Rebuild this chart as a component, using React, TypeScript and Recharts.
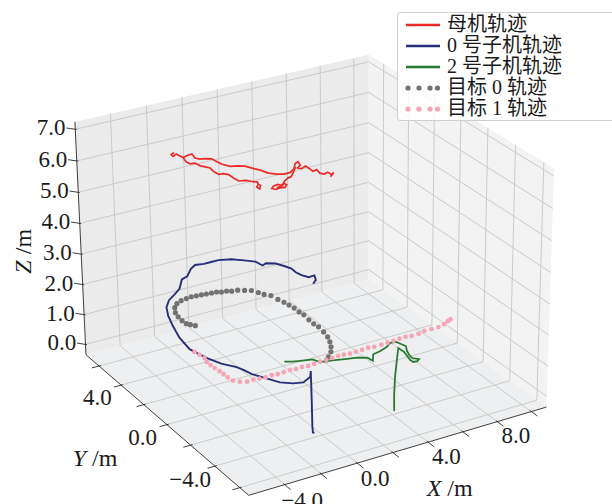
import { ScatterChart, Scatter, XAxis, YAxis } from 'recharts'

type P3 = [number, number, number]

const W = 612
const H = 504
const FONT = '"Liberation Serif", "Times New Roman", "Noto Sans CJK SC", serif'

// axis limits in metres
const X0 = -5.95
const X1 = 10.9
const Y0 = -6.7
const Y1 = 7.2
const Z0 = -0.35
const Z1 = 7.23

const X_TICKS = [-4, -2, 0, 2, 4, 6, 8, 10]
const X_TICK_LABELS = [-4, 0, 4, 8]
const Y_TICKS = [-6, -4, -2, 0, 2, 4, 6]
const Y_TICK_LABELS = [-4, 0, 4]
const Z_TICKS = [0, 1, 2, 3, 4, 5, 6, 7]

// camera calibration: data point -> where it sits in the figure (box corners and axis ticks)
const CALIB: [number, number, number, number, number][] = [
  [X0, Y1, Z0, 85, 355],
  [X0, Y0, Z0, 247, 493],
  [X1, Y0, Z0, 549, 408],
  [X1, Y1, Z0, 366, 273],
  [X0, Y1, Z1, 75, 121],
  [X1, Y1, Z1, 368, 61],
  [X1, Y0, Z1, 556, 168],
  [-4, Y0, Z0, 282, 483],
  [-2, Y0, Z0, 317, 473],
  [0, Y0, Z0, 355, 463],
  [2, Y0, Z0, 392, 452],
  [4, Y0, Z0, 427, 442],
  [6, Y0, Z0, 463, 432],
  [8, Y0, Z0, 498, 422],
  [10, Y0, Z0, 533, 412],
  [X0, 6, Z0, 100, 368],
  [X0, 4, Z0, 124, 388],
  [X0, 2, Z0, 149, 410],
  [X0, 0, Z0, 169, 426],
  [X0, -2, Z0, 194, 448],
  [X0, -4, Z0, 215, 466],
  [X0, -6, Z0, 239, 486],
  [X0, Y1, 0, 84.5, 344],
  [X0, Y1, 1, 83.3, 315],
  [X0, Y1, 2, 82, 284],
  [X0, Y1, 3, 80.6, 253],
  [X0, Y1, 4, 79.3, 222],
  [X0, Y1, 5, 78, 191],
  [X0, Y1, 6, 76.6, 159],
  [X0, Y1, 7, 75.3, 128],
]

const SERIES = [
  { name: '母机轨迹', color: '#ec2a2a', kind: 'line' },
  { name: '0 号子机轨迹', color: '#262f78', kind: 'line' },
  { name: '2 号子机轨迹', color: '#2b7a34', kind: 'line' },
  { name: '目标 0 轨迹', color: '#727272', kind: 'dot' },
  { name: '目标 1 轨迹', color: '#f5a5b5', kind: 'dot' },
]

// mother drone, z ~ 6 m (upper strand, lower strand, hovering loop)
const MOTHER_MAIN: P3[] = [
  [-1.35, 5.91, 6], [-1.61, 5.77, 6], [-1.63, 5.57, 6], [-1.37, 5.71, 6], [-1.28, 5.25, 6],
  [-0.95, 5.35, 6], [-0.69, 5.39, 6], [-0.81, 4.95, 6], [-0.66, 4.75, 6], [-0.41, 4.69, 6],
  [-0.14, 4.53, 6], [-0.09, 4.17, 6], [-0.03, 3.83, 6], [0.19, 3.48, 6], [0.55, 3.36, 6],
  [0.82, 3.18, 6], [1.0, 2.86, 6], [1.22, 2.51, 6], [1.39, 2.09, 6], [1.66, 1.82, 6],
  [2.0, 1.66, 6], [2.34, 1.69, 6], [2.71, 1.93, 6], [3.09, 2.36, 6], [3.32, 2.46, 6],
  [3.2, 2.11, 6], [2.92, 1.92, 6], [3.04, 1.77, 6], [3.36, 1.92, 6], [3.37, 1.6, 6],
  [3.35, 1.3, 6], [3.61, 1.37, 6], [3.53, 1.0, 6], [3.65, 0.84, 6], [3.92, 0.92, 6],
  [3.93, 0.6, 6], [4.16, 0.79, 6], [3.75, 0.48, 6],
]
const MOTHER_LOWER: P3[] = [
  [-1.28, 5.25, 6], [-1.4, 4.8, 6], [-1.34, 4.55, 6], [-1.1, 4.51, 6], [-1.04, 4.15, 6],
  [-0.89, 3.95, 6], [-0.75, 3.75, 6], [-0.81, 3.39, 6], [-0.76, 3.03, 6], [-0.52, 2.99, 6],
  [-0.37, 2.79, 6], [-0.36, 2.37, 6], [-0.31, 2.03, 6], [0.01, 1.93, 6], [0.24, 1.67, 6],
  [0.4, 1.57, 6], [0.3, 1.33, 6], [0.08, 1.15, 6], [0.1, 0.93, 6], [0.33, 1.21, 6],
  [0.31, 1.43, 6],
]
const MOTHER_LOOP: P3[] = [
  [2.89, 2.05, 6], [2.47, 1.63, 6], [2.09, 1.29, 6], [1.92, 1.27, 6], [1.55, 1.05, 6],
  [1.24, 0.73, 6], [1.1, 0.92, 6], [0.84, 0.88, 6], [0.62, 0.71, 6], [0.73, 0.54, 6],
  [0.98, 0.59, 6], [1.23, 0.53, 6], [1.45, 0.71, 6], [1.42, 0.93, 6], [1.12, 0.7, 6],
  [0.86, 0.66, 6],
]

// drone 0: climbs from the ground, then flies round at z ~ 2 m
const UAV0: P3[] = [
  [-0.76, -4.45, 0], [-0.81, -4.4, 0], [-0.83, -4.39, 0.2], [-0.86, -4.4, 1.0],
  [-0.9, -4.42, 1.7], [-0.92, -4.43, 2], [-1.23, -4.83, 2], [-1.8, -5.1, 2],
  [-2.27, -4.96, 2], [-2.75, -4.62, 2], [-3.09, -4.06, 2], [-3.47, -3.45, 2],
  [-3.59, -2.99, 2], [-3.73, -2.61, 2], [-4.19, -2.04, 2], [-4.48, -1.37, 2],
  [-4.64, -0.77, 2], [-4.76, -0.29, 2], [-4.59, 0.82, 2], [-4.27, 1.87, 2],
  [-3.93, 2.8, 2], [-3.57, 3.5, 2], [-3.08, 4.04, 2], [-2.58, 4.36, 2],
  [-2.02, 4.75, 2], [-1.41, 5.48, 2], [-1.01, 5.62, 2], [-0.43, 6.18, 2],
  [-0.03, 6.42, 2], [0.42, 6.32, 2], [0.84, 6.32, 2], [1.26, 6.32, 2],
  [1.88, 6.12, 2], [2.37, 5.74, 2], [2.79, 5.38, 2], [2.88, 4.9, 2],
  [3.16, 5.02, 2], [3.56, 4.78, 2], [3.82, 4.31, 2], [3.95, 4.01, 2],
  [3.92, 3.61, 2], [4.0, 3.24, 2], [4.19, 2.92, 2], [4.54, 2.94, 2], [4.33, 2.53, 2], [4.0, 2.29, 2],
]

// drone 2: cruise at z ~ 2 m, loop, then straight down
const UAV2: P3[] = [
  [-1.5, -3.18, 2], [-1.16, -3.35, 2], [-0.7, -3.48, 2], [-0.23, -3.6, 2], [-0.07, -3.95, 2],
  [0.27, -4.02, 2], [0.75, -4.15, 2], [1.22, -4.27, 2], [1.68, -4.39, 2], [2.12, -4.6, 2],
  [2.17, -4.94, 2], [2.54, -4.47, 2], [2.98, -4.38, 2], [3.49, -4.21, 2], [3.87, -3.97, 2],
  [4.17, -4.02, 2], [4.25, -4.28, 2], [4.34, -4.54, 2], [4.11, -4.92, 2], [3.98, -5.27, 2],
  [3.93, -5.55, 2], [4.15, -5.77, 2], [3.97, -5.88, 2], [3.75, -5.87, 2], [3.74, -5.66, 2],
  [3.94, -4.93, 2], [3.92, -4.52, 2], [3.92, -4.4, 1.5], [3.91, -4.3, 1.0],
  [3.91, -4.24, 0.4], [3.93, -4.22, -0.12], [3.99, -4.2, -0.15],
]

// target 0, z ~ 1 m
const TARGET0: P3[] = [
  [-1.74, 3.88, 1], [-1.9, 4.07, 1], [-2.02, 4.24, 1], [-2.04, 4.58, 1], [-2.0, 4.98, 1],
  [-1.9, 5.38, 1], [-1.66, 5.81, 1], [-1.35, 6.09, 1], [-1.0, 6.25, 1], [-0.66, 6.31, 1],
  [-0.34, 6.36, 1], [-0.07, 6.32, 1], [0.21, 6.3, 1], [0.47, 6.26, 1], [0.75, 6.23, 1],
  [1.03, 6.2, 1], [1.24, 6.09, 1], [1.52, 6.06, 1], [1.74, 5.94, 1], [2.06, 5.89, 1],
  [2.35, 5.72, 1], [2.64, 5.56, 1], [2.83, 5.24, 1], [2.97, 4.95, 1], [3.21, 4.71, 1],
  [3.29, 4.24, 1], [3.39, 3.87, 1], [3.45, 3.53, 1], [3.5, 3.17, 1], [3.49, 2.75, 1],
  [3.53, 2.41, 1], [3.46, 1.9, 1], [3.44, 1.48, 1], [3.48, 1.14, 1], [3.41, 0.63, 1],
  [3.3, 0.15, 1], [3.12, -0.28, 1], [2.89, -0.69, 1], [2.61, -1.07, 1], [2.23, -1.41, 1],
  [1.98, -1.6, 1],
]

// target 1, z ~ 1 m
const TARGET1: P3[] = [
  [-3.15, 1.81, 1], [-3.09, 1.47, 1], [-3.04, 1.13, 1], [-3.16, 0.77, 1], [-3.16, 0.45, 1],
  [-3.14, 0.13, 1], [-3.09, -0.21, 1], [-3.08, -0.53, 1], [-3.07, -0.85, 1], [-3.02, -1.2, 1],
  [-2.79, -1.43, 1], [-2.49, -1.58, 1], [-2.12, -1.55, 1], [-1.81, -1.6, 1], [-1.5, -1.64, 1],
  [-1.13, -1.61, 1], [-0.83, -1.66, 1], [-0.47, -1.63, 1], [-0.1, -1.6, 1], [0.21, -1.65, 1],
  [0.57, -1.62, 1], [0.88, -1.67, 1], [1.24, -1.64, 1], [1.6, -1.61, 1], [1.97, -1.59, 1],
  [2.33, -1.56, 1], [2.69, -1.53, 1], [2.99, -1.57, 1], [3.31, -1.62, 1], [3.67, -1.59, 1],
  [4.04, -1.58, 1], [4.41, -1.55, 1], [4.72, -1.61, 1], [5.14, -1.6, 1], [5.51, -1.58, 1],
  [5.88, -1.56, 1], [6.25, -1.53, 1], [6.62, -1.51, 1], [6.94, -1.56, 1], [7.35, -1.56, 1],
  [7.77, -1.45, 1], [8.18, -1.47, 1], [8.6, -1.46, 1], [9.02, -1.35, 1], [9.35, -1.21, 1],
  [9.59, -1.11, 1],
]

// perspective camera fitted to the calibration points (least squares DLT)
function fitCamera() {
  const S = 300
  const CX = 306
  const CY = 252
  const norm = (x: number, y: number, z: number) => [(x - X0) / (X1 - X0), (y - Y0) / (Y1 - Y0), (z - Z0) / (Z1 - Z0)]
  const rows: number[][] = []
  const rhs: number[] = []
  for (const [x, y, z, px, py] of CALIB) {
    const [u, v, w] = norm(x, y, z)
    const X = (px - CX) / S
    const Y = (py - CY) / S
    rows.push([u, v, w, 1, 0, 0, 0, 0, -X * u, -X * v, -X * w])
    rhs.push(X)
    rows.push([0, 0, 0, 0, u, v, w, 1, -Y * u, -Y * v, -Y * w])
    rhs.push(Y)
  }
  const n = 11
  const M = Array.from({ length: n }, () => new Array(n + 1).fill(0))
  rows.forEach((row, r) => {
    for (let i = 0; i < n; i++) {
      for (let j = 0; j < n; j++) M[i][j] += row[i] * row[j]
      M[i][n] += row[i] * rhs[r]
    }
  })
  for (let c = 0; c < n; c++) {
    let piv = c
    for (let r = c + 1; r < n; r++) if (Math.abs(M[r][c]) > Math.abs(M[piv][c])) piv = r
    const tmp = M[c]
    M[c] = M[piv]
    M[piv] = tmp
    for (let r = 0; r < n; r++) {
      if (r === c) continue
      const f = M[r][c] / M[c][c]
      for (let k = c; k <= n; k++) M[r][k] -= f * M[c][k]
    }
  }
  const p = M.map((row, i) => row[n] / row[i])
  return (pt: P3) => {
    const [u, v, w] = norm(pt[0], pt[1], pt[2])
    const d = p[8] * u + p[9] * v + p[10] * w + 1
    return {
      px: CX + (S * (p[0] * u + p[1] * v + p[2] * w + p[3])) / d,
      py: CY + (S * (p[4] * u + p[5] * v + p[6] * w + p[7])) / d,
    }
  }
}

const project = fitCamera()
const proj = (arr: P3[]) => arr.map(project)
const seg = (a: P3, b: P3) => [project(a), project(b)]

const panes = [
  { poly: proj([[X0, Y1, Z0], [X1, Y1, Z0], [X1, Y1, Z1], [X0, Y1, Z1]]), fill: '#ebebeb' },
  { poly: proj([[X1, Y0, Z0], [X1, Y1, Z0], [X1, Y1, Z1], [X1, Y0, Z1]]), fill: '#f3f3f3' },
  { poly: proj([[X0, Y0, Z0], [X1, Y0, Z0], [X1, Y1, Z0], [X0, Y1, Z0]]), fill: '#eeeff0' },
].map(p => ({ ...p, px: p.poly[0].px, py: p.poly[0].py }))

const gridSegs = [
  ...X_TICKS.flatMap(x => [seg([x, Y0, Z0], [x, Y1, Z0]), seg([x, Y1, Z0], [x, Y1, Z1])]),
  ...Y_TICKS.flatMap(y => [seg([X0, y, Z0], [X1, y, Z0]), seg([X1, y, Z0], [X1, y, Z1])]),
  ...Z_TICKS.flatMap(z => [seg([X0, Y1, z], [X1, Y1, z]), seg([X1, Y0, z], [X1, Y1, z])]),
]

const axisSegs = [
  seg([X0, Y0, Z0], [X1, Y0, Z0]),
  seg([X0, Y1, Z0], [X0, Y0, Z0]),
  seg([X0, Y1, Z0], [X0, Y1, Z1]),
  ...X_TICKS.map(x => seg([x, Y0 + 0.1, Z0], [x, Y0 - 0.45, Z0])),
  ...Y_TICKS.map(y => seg([X0 + 0.1, y, Z0], [X0 - 0.4, y, Z0])),
  ...Z_TICKS.map(z => seg([X0 + 0.05, Y1 - 0.05, z], [X0 - 0.3, Y1 + 0.3, z])),
]

const fmt = (v: number) => (v < 0 ? '\u2212' : '') + Math.abs(v).toFixed(1)

const labels = [
  ...X_TICK_LABELS.map(x => ({ ...project([x, Y0 - 1.5, Z0]), text: fmt(x), anchor: 'middle', dx: -2, dy: -1 })),
  ...Y_TICK_LABELS.map(y => ({ ...project([X0 - 1.5, y, Z0]), text: fmt(y), anchor: 'middle', dx: 3, dy: 5 })),
  ...Z_TICKS.map(z => ({ ...project([X0 - 0.33, Y1 + 0.33, z]), text: fmt(z), anchor: 'end', dx: 0, dy: 0 })),
]

const titles = [
  { ...project([2.8, Y0 - 4.0, Z0]), sym: 'X', rotate: 0, dx: -12, dy: -3 },
  { ...project([X0 - 4.4, -0.5, Z0]), sym: 'Y', rotate: 0, dx: 3, dy: 5 },
  { ...project([X0 - 2, Y1 + 2, 2.87]), sym: 'Z', rotate: -90, dx: -1, dy: 2 },
]

const NoDot = () => <g />

function PaneShape(props: any) {
  const { cx, cy, payload } = props
  const pts = payload.poly.map((q: any) => `${cx + q.px - payload.px},${cy + q.py - payload.py}`).join(' ')
  return <polygon points={pts} fill={payload.fill} stroke="none" />
}

function LabelShape(props: any) {
  const { cx, cy, payload } = props
  return (
    <text
      x={cx + payload.dx}
      y={cy + payload.dy}
      textAnchor={payload.anchor}
      dominantBaseline="central"
      fontSize={23}
      fontFamily={FONT}
      fill="#1a1a1a"
    >
      {payload.text}
    </text>
  )
}

function TitleShape(props: any) {
  const { payload } = props
  const x = props.cx + payload.dx
  const y = props.cy + payload.dy
  return (
    <text
      x={x}
      y={y}
      textAnchor="middle"
      dominantBaseline="central"
      fontSize={24}
      fontFamily={FONT}
      fill="#1a1a1a"
      transform={payload.rotate ? `rotate(${payload.rotate} ${x} ${y})` : undefined}
    >
      <tspan fontStyle="italic">{payload.sym}</tspan>
      <tspan> /m</tspan>
    </text>
  )
}

const dotShape = (color: string, r: number) => (props: any) => <circle cx={props.cx} cy={props.cy} r={r} fill={color} />

function Legend() {
  return (
    <div
      style={{
        position: 'absolute',
        left: 397,
        top: 12,
        width: 230,
        padding: '1px 0',
        border: '1px solid #cfcfcf',
        borderRadius: 3,
        background: 'rgba(255,255,255,0.85)',
        fontFamily: FONT,
        fontSize: 20,
        color: '#1a1a1a',
      }}
    >
      {SERIES.map(s => (
        <div key={s.name} style={{ display: 'flex', alignItems: 'center', height: 21, whiteSpace: 'nowrap' }}>
          <svg width={36} height={10} style={{ marginLeft: 7, marginRight: 6 }}>
            {s.kind === 'line' ? (
              <line x1={1} y1={5} x2={35} y2={5} stroke={s.color} strokeWidth={2.6} />
            ) : (
              [3, 14, 25, 35 - 2.5].map(cx => <circle key={cx} cx={cx} cy={5} r={2.6} fill={s.color} />)
            )}
          </svg>
          <span style={{ lineHeight: '21px' }}>{s.name}</span>
        </div>
      ))}
    </div>
  )
}

export default function App() {
  return (
    <div style={{ position: 'fixed', left: 0, top: 0, width: W, height: H, background: '#fff', overflow: 'hidden' }}>
      <ScatterChart width={W} height={H} margin={{ top: 0, right: 0, bottom: 0, left: 0 }}>
        <XAxis type="number" dataKey="px" domain={[0, W]} hide allowDataOverflow />
        <YAxis type="number" dataKey="py" domain={[0, H]} reversed hide allowDataOverflow />
        <Scatter data={panes} shape={PaneShape} isAnimationActive={false} />
        {gridSegs.map((g, i) => (
          <Scatter key={'g' + i} data={g} line={{ stroke: '#c6c6c6', strokeWidth: 0.9 }} shape={NoDot} isAnimationActive={false} />
        ))}
        {axisSegs.map((g, i) => (
          <Scatter key={'a' + i} data={g} line={{ stroke: '#2a2a2a', strokeWidth: 0.9 }} shape={NoDot} isAnimationActive={false} />
        ))}
        <Scatter data={labels} shape={LabelShape} isAnimationActive={false} />
        <Scatter data={titles} shape={TitleShape} isAnimationActive={false} />
        <Scatter data={proj(MOTHER_MAIN)} line={{ stroke: SERIES[0].color, strokeWidth: 1.7 }} shape={NoDot} isAnimationActive={false} />
        <Scatter data={proj(MOTHER_LOWER)} line={{ stroke: SERIES[0].color, strokeWidth: 1.7 }} shape={NoDot} isAnimationActive={false} />
        <Scatter data={proj(MOTHER_LOOP)} line={{ stroke: SERIES[0].color, strokeWidth: 1.7 }} shape={NoDot} isAnimationActive={false} />
        <Scatter data={proj(UAV0)} line={{ stroke: SERIES[1].color, strokeWidth: 1.9 }} shape={NoDot} isAnimationActive={false} />
        <Scatter data={proj(UAV2)} line={{ stroke: SERIES[2].color, strokeWidth: 1.8 }} shape={NoDot} isAnimationActive={false} />
        <Scatter data={proj(TARGET0)} shape={dotShape(SERIES[3].color, 2.6)} isAnimationActive={false} />
        <Scatter data={proj(TARGET1)} shape={dotShape(SERIES[4].color, 2.4)} isAnimationActive={false} />
      </ScatterChart>
      <Legend />
    </div>
  )
}
